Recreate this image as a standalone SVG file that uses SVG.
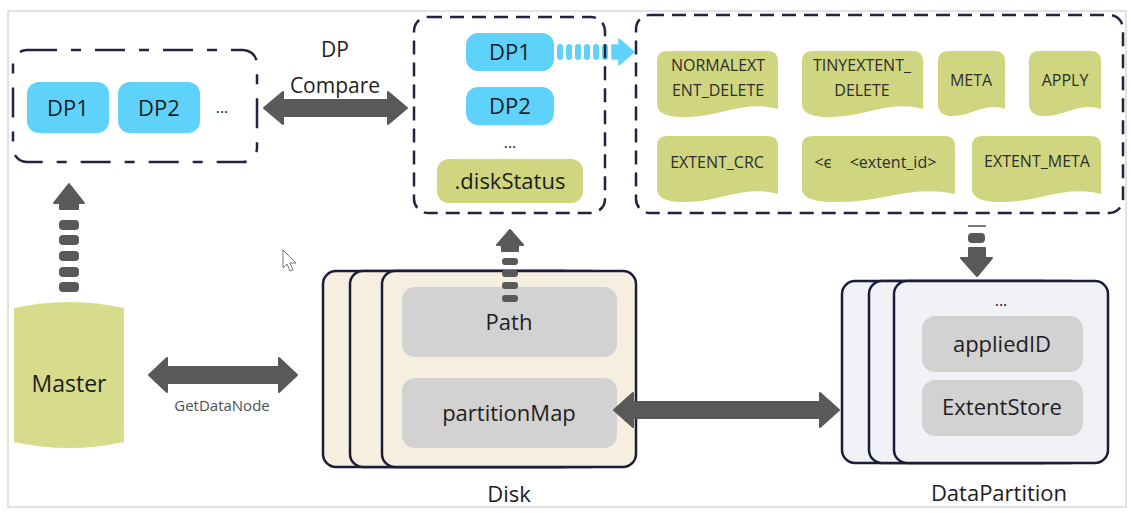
<svg xmlns="http://www.w3.org/2000/svg" width="1131" height="513" viewBox="0 0 1131 513">
<style>
text{font-family:"Open Sans","Noto Sans",sans-serif;fill:#1e1e1e;text-anchor:middle}
.dash{fill:none;stroke:#23233f;stroke-width:2.5;stroke-dasharray:14 8}
.dashdot{fill:none;stroke:#23233f;stroke-width:2.5;stroke-dasharray:30 14 10 14}
.blue{fill:#5fd2fb}
.olive{fill:#cfd67f}
.gray{fill:#d2d2d2}
.disk{fill:#f6efdf;stroke:#1c1c3a;stroke-width:2.5}
.dpc{fill:#f1f2f6;stroke:#1c1c3a;stroke-width:2.5}
.arr{fill:#595959;stroke:#595959;stroke-width:2;stroke-linejoin:round}
.t22{font-size:22px}
.t16{font-size:16px;fill:#2e2e2e}
</style>
<rect x="0" y="0" width="1131" height="513" fill="#ffffff"/>
<rect x="8" y="11" width="1118" height="496" fill="none" stroke="#d9d9d9" stroke-width="1.5"/>

<g id="left-dp-group">
  <rect class="blue" x="27" y="82" width="82" height="51" rx="12"/>
  <text class="t22" x="68" y="116">DP1</text>
  <rect class="blue" x="118" y="82" width="82" height="51" rx="12"/>
  <text class="t22" x="159" y="116">DP2</text>
  <text x="222" y="113" font-size="16">...</text>
</g>

<g id="mid-dp-group">
  <rect class="blue" x="466" y="33" width="88" height="38" rx="12"/>
  <text class="t22" x="510" y="60">DP1</text>
  <rect class="blue" x="466" y="87" width="88" height="38" rx="12"/>
  <text class="t22" x="510" y="114">DP2</text>
  <text x="510" y="148" font-size="16">...</text>
  <rect class="olive" x="437" y="159" width="146" height="44" rx="12"/>
  <text class="t22" x="510" y="189">.diskStatus</text>
</g>

<g id="file-types">
  <path class="olive" d="M657,61 Q657,51 667,51 H768 Q778,51 778,61 V109 C748,101 726,113 700,116 C675,119 657,116 657,104 Z"/>
  <text class="t16" x="718" y="71">NORMALEXT</text>
  <text class="t16" x="718" y="96">ENT_DELETE</text>
  <path class="olive" d="M802,61 Q802,51 812,51 H913 Q923,51 923,61 V109 C893,101 871,113 845,116 C820,119 802,116 802,104 Z"/>
  <text class="t16" x="862" y="71">TINYEXTENT_</text>
  <text class="t16" x="862" y="96">DELETE</text>
  <path class="olive" d="M938,61 Q938,51 948,51 H995 Q1005,51 1005,61 V109 C988,103 975,112 962,115 C948,118 938,115 938,104 Z"/>
  <text class="t16" x="971" y="86">META</text>
  <path class="olive" d="M1029,61 Q1029,51 1039,51 H1091 Q1101,51 1101,61 V109 C1083,103 1069,112 1055,115 C1040,118 1029,115 1029,104 Z"/>
  <text class="t16" x="1065" y="86">APPLY</text>
  <path class="olive" d="M657,146 Q657,136 667,136 H768 Q778,136 778,146 V194 C748,186 726,198 700,201 C675,204 657,201 657,189 Z"/>
  <text class="t16" x="717" y="168">EXTENT_CRC</text>
  <path class="olive" d="M802,146 Q802,136 812,136 H945 Q955,136 955,146 V194 C917,186 890,198 857,201 C825,204 802,201 802,189 Z"/>
  <text class="t16" x="823" y="168">&lt;ϵ</text>
  <text class="t16" x="893" y="168">&lt;extent_id&gt;</text>
  <path class="olive" d="M972,146 Q972,136 982,136 H1091 Q1101,136 1101,146 V194 C1069,186 1046,198 1018,201 C992,204 972,201 972,189 Z"/>
  <text class="t16" x="1037" y="167">EXTENT_META</text>
</g>

<g id="master">
  <path d="M14,308 Q69,296 124,308 V442 Q69,454 14,442 Z" fill="#d6dc8c"/>
  <text x="69" y="392" font-size="23">Master</text>
</g>

<g id="disk">
  <rect class="disk" x="323" y="271" width="254" height="196" rx="13"/>
  <rect class="disk" x="350" y="271" width="254" height="196" rx="13"/>
  <rect class="disk" x="382" y="271" width="254" height="196" rx="13"/>
  <rect class="gray" x="402" y="287" width="215" height="70" rx="13"/>
  <text class="t22" x="509" y="330">Path</text>
  <rect class="gray" x="402" y="378" width="215" height="70" rx="13"/>
  <text class="t22" x="509" y="421">partitionMap</text>
  <text class="t22" x="509" y="502">Disk</text>
</g>

<g id="data-partition">
  <rect class="dpc" x="842" y="281" width="214" height="182" rx="13"/>
  <rect class="dpc" x="869" y="281" width="214" height="182" rx="13"/>
  <rect class="dpc" x="894" y="281" width="214" height="182" rx="13"/>
  <text x="1001" y="306" font-size="16">...</text>
  <rect class="gray" x="922" y="316" width="161" height="56" rx="13"/>
  <text class="t22" x="1002" y="352">appliedID</text>
  <rect class="gray" x="922" y="380" width="161" height="56" rx="13"/>
  <text class="t22" x="1002" y="415">ExtentStore</text>
  <text class="t22" x="999" y="501">DataPartition</text>
</g>

<g id="connectors">
  <polygon class="arr" points="264,108 283,92 283,100 388,100 388,92 407,108 388,124 388,116 283,116 283,124"/>
  <text x="335" y="57" font-size="21">DP</text>
  <text x="335" y="93" font-size="21">Compare</text>

  <polygon class="arr" points="149,375 167,358 167,367 279,367 279,358 297,375 279,392 279,383 167,383 167,392"/>
  <text x="222" y="411" font-size="15" style="fill:#505050">GetDataNode</text>

  <polygon class="arr" points="614,410 633,393 633,402 820,402 820,393 839,410 820,427 820,418 633,418 633,427"/>

  <polygon class="arr" points="69,184 84,203 78,203 78,209 60,209 60,203 54,203"/>
  <g fill="#595959">
    <rect x="59" y="220" width="20" height="10" rx="4"/>
    <rect x="59" y="235" width="20" height="10" rx="4"/>
    <rect x="59" y="251" width="20" height="10" rx="4"/>
    <rect x="59" y="267" width="20" height="10" rx="4"/>
    <rect x="59" y="282" width="20" height="10" rx="4"/>
  </g>

  <polygon class="arr" points="510,230 523,245 518,245 518,251 502,251 502,245 497,245"/>
  <g fill="#595959">
    <rect x="502" y="258" width="16" height="7" rx="3"/>
    <rect x="502" y="270" width="16" height="7" rx="3"/>
    <rect x="502" y="282" width="16" height="7" rx="3"/>
    <rect x="502" y="295" width="16" height="7" rx="3"/>
  </g>

  <line x1="968" y1="226" x2="986" y2="226" stroke="#7a7a7a" stroke-width="2"/>
  <rect x="968" y="233" width="17" height="10" rx="4" fill="#595959"/>
  <polygon class="arr" points="969,248 985,248 985,258 992,258 977,276 961,258 969,258"/>

  <g class="blue">
    <rect x="557" y="44" width="6" height="16" rx="3"/>
    <rect x="566" y="44" width="6" height="16" rx="3"/>
    <rect x="575" y="44" width="6" height="16" rx="3"/>
    <rect x="584" y="44" width="6" height="16" rx="3"/>
    <rect x="593" y="44" width="6" height="16" rx="3"/>
    <rect x="602" y="44" width="6" height="16" rx="3"/>
    <polygon points="612,45 619,45 619,39 634,52 619,65 619,59 612,59" stroke="#5fd2fb" stroke-width="1.5" stroke-linejoin="round"/>
  </g>
</g>

<g id="left-box"><rect class="dashdot" x="13" y="50" width="244" height="112" rx="14"/></g>
<g id="mid-box"><rect class="dash" x="414" y="17" width="191" height="196" rx="14"/></g>
<g id="right-box"><rect class="dash" x="636" y="15" width="487" height="198" rx="14"/></g>

<g id="cursor">
  <polygon points="283,250 283,268 287,264 290,271 293,270 290,263 296,263" fill="#ffffff" stroke="#777777" stroke-width="1" stroke-linejoin="round"/>
</g>
</svg>
